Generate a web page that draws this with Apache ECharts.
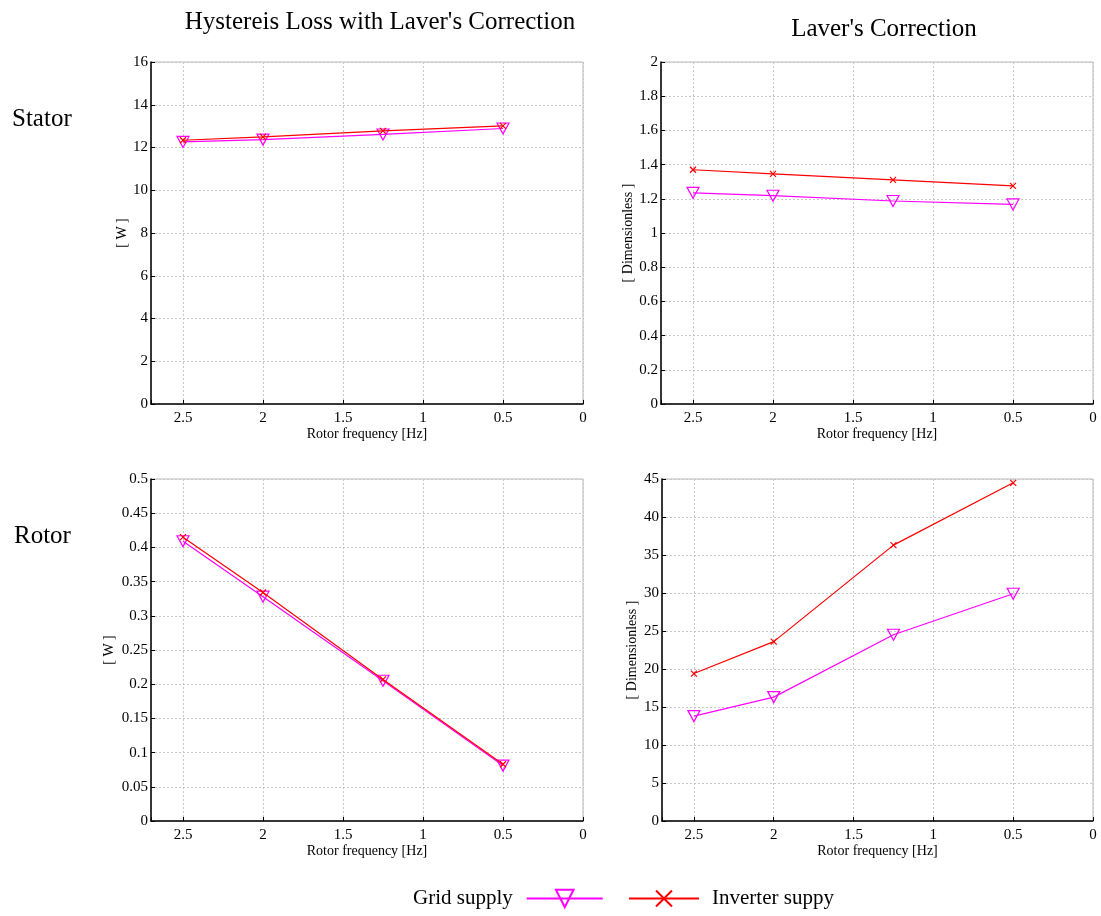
<!DOCTYPE html>
<html>
<head>
<meta charset="utf-8">
<script src="https://cdn.jsdelivr.net/npm/echarts@6/dist/echarts.min.js"></script>
<style>
  html, body { margin: 0; padding: 0; background: #fff; }
  #chart { width: 1101px; height: 916px; }
</style>
</head>
<body>
<div id="chart"></div>
<script>
// rotor frequency [Hz]
const freqs = [2.5, 2, 1.25, 0.5]

// stator hysteresis loss with Laver's correction [W]
const statorLossGrid = [12.26, 12.37, 12.61, 12.89]
const statorLossInverter = [12.34, 12.50, 12.78, 13.01]

// stator Laver's correction [-]
const statorCorrGrid = [1.235, 1.218, 1.187, 1.167]
const statorCorrInverter = [1.370, 1.346, 1.311, 1.276]

// rotor hysteresis loss with Laver's correction [W]
const rotorLossGrid = [0.409, 0.328, 0.205, 0.081]
const rotorLossInverter = [0.415, 0.334, 0.207, 0.083]

// rotor Laver's correction [-]
const rotorCorrGrid = [13.8, 16.3, 24.5, 29.9]
const rotorCorrInverter = [19.4, 23.6, 36.3, 44.5]

const GRID_NAME = 'Grid supply'
const INV_NAME = 'Inverter suppy'

const font = '"Liberation Serif", "Times New Roman", serif'
const MAGENTA = '#ff00ff'
const RED = '#ff0000'

const triangleDown = 'path://M0,0L10,0L5,9Z'
const cross = 'path://M0,0L10,10M10,0L0,10'

const chart = echarts.init(document.getElementById('chart'))

const grids = [
  { left: 151, top: 62, width: 432, height: 342 },
  { left: 661, top: 62, width: 432, height: 342 },
  { left: 151, top: 479, width: 432, height: 342 },
  { left: 662, top: 479, width: 431, height: 342 },
]

const yCfg = [
  { max: 16, interval: 2, name: '[ W ]', gap: 22 },
  { max: 2, interval: 0.2, name: '[ Dimensionless ]', gap: 26 },
  { max: 0.5, interval: 0.05, name: '[ W ]', gap: 35 },
  { max: 45, interval: 5, name: '[ Dimensionless ]', gap: 23 },
]

const data = [
  [statorLossGrid, statorLossInverter],
  [statorCorrGrid, statorCorrInverter],
  [rotorLossGrid, rotorLossInverter],
  [rotorCorrGrid, rotorCorrInverter],
]

const pairs = (ys) => freqs.map((f, i) => [f, ys[i]])

const bigText = { fontFamily: font, fontSize: 25, fontWeight: 'normal', color: '#000' }

const option = {
  animation: false,
  backgroundColor: '#fff',
  textStyle: { fontFamily: font },
  title: [
    { text: "Hystereis Loss with Laver's Correction", left: 375, top: 5, textAlign: 'center', textStyle: bigText },
    { text: "Laver's Correction", left: 879, top: 12, textAlign: 'center', textStyle: bigText },
    { text: 'Stator', left: 7, top: 102, textStyle: bigText },
    { text: 'Rotor', left: 9, top: 519, textStyle: bigText },
  ],
  legend: [
    {
      data: [GRID_NAME], left: 408, top: 883, align: 'right',
      itemWidth: 76, itemHeight: 22,
      textStyle: { fontFamily: font, fontSize: 21, color: '#000', padding: [0, 9, 0, 0] },
      selectedMode: false,
    },
    {
      data: [INV_NAME], left: 623, top: 883, align: 'left',
      itemWidth: 70, itemHeight: 20,
      textStyle: { fontFamily: font, fontSize: 21, color: '#000', padding: [0, 0, 0, 8] },
      selectedMode: false,
    },
  ],
  grid: grids.map((g) => ({ ...g, show: true, borderColor: '#b8b8b8', borderWidth: 1 })),
  xAxis: grids.map((g, i) => ({
    type: 'value', gridIndex: i, inverse: true, min: 0, max: 2.7, interval: 0.5,
    name: 'Rotor frequency [Hz]', nameLocation: 'middle', nameGap: 21,
    nameTextStyle: { fontFamily: font, fontSize: 14, color: '#000' },
    axisLine: { onZero: false, lineStyle: { color: '#000', width: 1.5 } },
    axisTick: { inside: true, length: 4, lineStyle: { color: '#000' } },
    axisLabel: {
      fontFamily: font, fontSize: 15, color: '#000', margin: 7,
      formatter: (v) => (Math.abs(v * 2 - Math.round(v * 2)) < 1e-6 ? String(v) : ''),
    },
    splitLine: { show: true, lineStyle: { color: '#c8c8c8', type: [2, 2] } },
  })),
  yAxis: yCfg.map((c, i) => ({
    type: 'value', gridIndex: i, min: 0, max: c.max, interval: c.interval,
    name: c.name, nameLocation: 'middle', nameGap: c.gap, nameRotate: 90,
    nameTextStyle: { fontFamily: font, fontSize: 14, color: '#000' },
    axisLine: { show: true, onZero: false, lineStyle: { color: '#000', width: 1.5 } },
    axisTick: { show: true, inside: true, length: 4, lineStyle: { color: '#000' } },
    axisLabel: { fontFamily: font, fontSize: 15, color: '#000', margin: 3 },
    splitLine: { show: true, lineStyle: { color: '#c8c8c8', type: [2, 2] } },
  })),
  series: data.flatMap(([g, inv], i) => [
    {
      name: GRID_NAME, type: 'line', xAxisIndex: i, yAxisIndex: i, data: pairs(g),
      symbol: triangleDown, symbolSize: [12, 11], showAllSymbol: true,
      lineStyle: { color: MAGENTA, width: 1.2 },
      itemStyle: { color: 'rgba(255,255,255,0)', borderColor: MAGENTA, borderWidth: 1.2 },
      z: 2,
    },
    {
      name: INV_NAME, type: 'line', xAxisIndex: i, yAxisIndex: i, data: pairs(inv),
      symbol: cross, symbolSize: 6, showAllSymbol: true,
      lineStyle: { color: RED, width: 1.2 },
      itemStyle: { color: 'rgba(255,255,255,0)', borderColor: RED, borderWidth: 1.2 },
      z: 3,
    },
  ]),
}

chart.setOption(option)
</script>
</body>
</html>
